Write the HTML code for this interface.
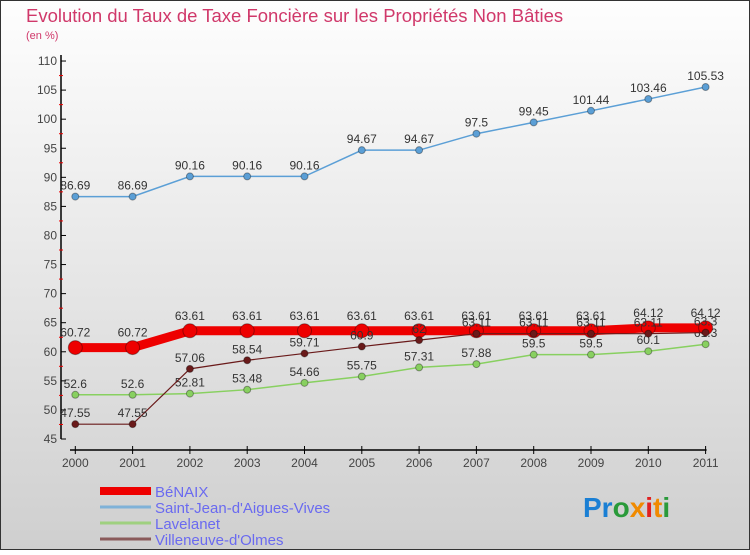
<!DOCTYPE html>
<html><head><meta charset="utf-8"><style>
body{margin:0;width:750px;height:550px;overflow:hidden;font-family:"Liberation Sans",sans-serif}
</style></head><body>
<svg id="c" width="750" height="550" xmlns="http://www.w3.org/2000/svg">
<defs><linearGradient id="bg" x1="0" y1="0" x2="0" y2="1"><stop offset="0" stop-color="#fefefe"/><stop offset="1" stop-color="#cfcfcf"/></linearGradient></defs>
<rect x="0.5" y="0.5" width="749" height="549" fill="url(#bg)" stroke="#333"/>
<text x="26" y="22" font-size="18.5" fill="#d0386a">Evolution du Taux de Taxe Foncière sur les Propriétés Non Bâties</text>
<text x="26" y="39" font-size="11" fill="#d0386a">(en %)</text>
<g id="axes"></g><g id="series"></g><g id="legend"></g>
<text x="583" y="517" font-size="28" font-weight="bold"><tspan fill="#1a7fd4">Pr</tspan><tspan fill="#2a9a3a">o</tspan><tspan fill="#f08a00">x</tspan><tspan fill="#e02020">i</tspan><tspan fill="#f08a00">t</tspan><tspan fill="#2a9a3a">i</tspan></text>
</svg>
<script>
const years=["2000","2001","2002","2003","2004","2005","2006","2007","2008","2009","2010","2011"];
const yTicks=[45,50,55,60,65,70,75,80,85,90,95,100,105,110];
const benaix=[60.72,60.72,63.61,63.61,63.61,63.61,63.61,63.61,63.61,63.61,64.12,64.12];
const saintJean=[86.69,86.69,90.16,90.16,90.16,94.67,94.67,97.5,99.45,101.44,103.46,105.53];
const lavelanet=[52.6,52.6,52.81,53.48,54.66,55.75,57.31,57.88,59.5,59.5,60.1,61.3];
const villeneuve=[47.55,47.55,57.06,58.54,59.71,60.9,62,63.11,63.11,63.11,63.11,63.3];
const NS="http://www.w3.org/2000/svg";
const X=i=>75.3+i*57.3;
const Y=v=>439-(v-45)*5.815;
function mk(t,a,p){const e=document.createElementNS(NS,t);for(const k in a)e.setAttribute(k,a[k]);p.appendChild(e);return e;}
const ax=document.getElementById('axes');
const yl=mk('line',{x1:61,y1:55,x2:61,y2:Y(45),stroke:'#000','stroke-width':1.5},ax);


yTicks.forEach(v=>{
 mk('line',{x1:61,y1:Y(v),x2:66,y2:Y(v),stroke:'#000'},ax);
 if(v<110) mk('line',{x1:59,y1:Y(v+2.5),x2:63,y2:Y(v+2.5),stroke:'#e00'},ax);
 const t=mk('text',{x:57,y:Y(v)+4,'font-size':12,fill:'#444','text-anchor':'end'},ax);t.textContent=v;
 
 
});
const xl=mk('line',{x1:70,y1:450,x2:X(11)+1,y2:450,stroke:'#000','stroke-width':1.5},ax);


years.forEach((y,i)=>{
 mk('line',{x1:X(i),y1:446,x2:X(i),y2:454,stroke:'#000'},ax);
 const t=mk('text',{x:X(i),y:467,'font-size':12,fill:'#444','text-anchor':'middle'},ax);t.textContent=y;
 
 
});
const sg=document.getElementById('series');
function series(data,color,w,r,name,dy){
 const g=mk('g',{},sg);
 
 
 mk('polyline',{points:data.map((v,i)=>X(i)+','+Y(v)).join(' '),fill:'none',stroke:color,'stroke-width':w},g);
 data.forEach((v,i)=>{
  const c=mk('circle',{cx:X(i),cy:Y(v),r:r,fill:color,stroke:'rgba(0,0,0,0.35)'},g);
  
  
  const t=mk('text',{x:X(i),y:Y(v)+dy,'font-size':12,fill:'#333','text-anchor':'middle'},g);t.textContent=String(v);
 });
}
series(saintJean,'#5b9fd6',1.5,3.5,'series-saint-jean',-7);
series(lavelanet,'#88d060',1.5,3.5,'series-lavelanet',-7);
series(benaix,'#ee0000',9,7,'series-benaix',-11);
series(villeneuve,'#6a1a1a',1.2,3.5,'series-villeneuve',-7);
const lg=document.getElementById('legend');
[['BéNAIX','#ee0000',8],['Saint-Jean-d\'Aigues-Vives','#7fb2d8',3],['Lavelanet','#9fd07f',3],['Villeneuve-d\'Olmes','#8a5a5a',3]].forEach((e,i)=>{
 const y=491+i*16;
 const g=mk('g',{},lg);
 
 
 mk('line',{x1:100,y1:y,x2:151,y2:y,stroke:e[1],'stroke-width':e[2]},g);
 const t=mk('text',{x:155,y:y+6,'font-size':15,fill:'#6a6af0'},g);t.textContent=e[0];
});
</script>
</body></html>
